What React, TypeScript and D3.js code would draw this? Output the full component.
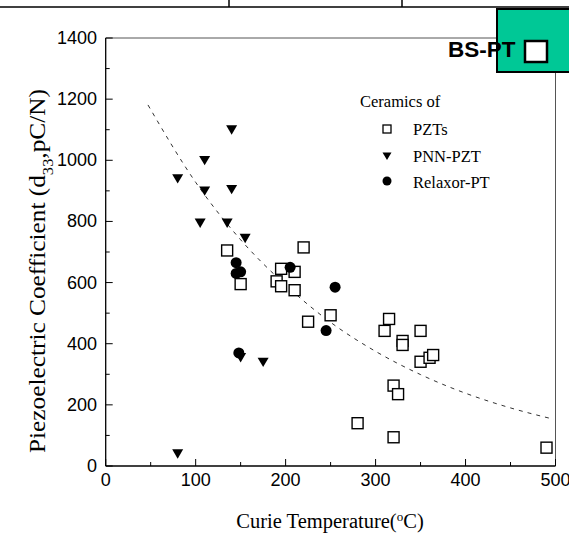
import React from "react";
import * as d3 from "d3";

const pztX = [135, 150, 190, 195, 195, 210, 210, 220, 225, 250, 280, 310, 315, 320, 320, 325, 330, 330, 350, 350, 360, 364, 490];
const pztY = [705, 595, 604, 588, 645, 635, 575, 715, 472, 493, 140, 442, 481, 263, 94, 235, 409, 396, 442, 341, 354, 363, 60];
const pnnX = [140, 110, 80, 110, 140, 105, 135, 155, 150, 175, 80];
const pnnY = [1100, 1000, 940, 900, 905, 795, 795, 745, 355, 340, 40];
const relX = [145, 145, 150, 205, 255, 245, 148];
const relY = [665, 630, 635, 650, 585, 443, 370];
const fitX = [47, 100, 150, 200, 250, 300, 350, 400, 450, 498];
const fitY = [1181, 928, 740, 592, 470, 375, 299, 238, 190, 153];
const xTicks = [0, 100, 200, 300, 400, 500];
const yTicks = [0, 200, 400, 600, 800, 1000, 1200, 1400];
const legendLabels = ["PZTs", "PNN-PZT", "Relaxor-PT"];

export default function App() {
  const W = 569, H = 533;
  const x = d3.scaleLinear().domain([0, 500]).range([105.7, 555.5]);
  const y = d3.scaleLinear().domain([0, 1400]).range([466, 38]);
  const line = d3.line<number>().x((_, i) => x(fitX[i])).y((v) => y(v)).curve(d3.curveMonotoneX);
  const minorX = d3.range(50, 500, 100);
  const minorY = d3.range(100, 1400, 200);
  const tri = (cx: number, cy: number, s: number) =>
    `M${cx - s},${cy - s * 0.8}L${cx + s},${cy - s * 0.8}L${cx},${cy + s * 0.9}Z`;
  const serif = "'Liberation Serif', 'Times New Roman', serif";
  const sans = "'Liberation Sans', Arial, sans-serif";
  return (
    <svg width={W} height={H} style={{ position: "absolute", left: 0, top: 0, background: "#fff" }}>
      {/* top table border fragment */}
      <line x1={0} x2={W} y1={7} y2={7} stroke="#000" strokeWidth={1.5} />
      <line x1={229} x2={229} y1={0} y2={7} stroke="#000" strokeWidth={1.5} />
      <line x1={402} x2={402} y1={0} y2={7} stroke="#000" strokeWidth={1.5} />
      {/* frame */}
      <line x1={x(0)} x2={x(500)} y1={y(1400)} y2={y(1400)} stroke="#555" strokeWidth={1} />
      <line x1={x(500)} x2={x(500)} y1={y(1400)} y2={y(0)} stroke="#555" strokeWidth={1} />
      <line x1={x(0)} x2={x(0)} y1={y(1400)} y2={y(0)} stroke="#000" strokeWidth={1.3} />
      <line x1={x(0)} x2={x(500)} y1={y(0)} y2={y(0)} stroke="#000" strokeWidth={1.3} />
      {/* ticks */}
      {xTicks.map((t) => (
        <g key={"xt" + t}>
          <line x1={x(t)} x2={x(t)} y1={y(0)} y2={y(0) - 7} stroke="#000" />
          <text x={x(t)} y={486} textAnchor="middle" fontFamily={sans} fontSize={18}>{t}</text>
        </g>
      ))}
      {minorX.map((t) => (
        <line key={"xm" + t} x1={x(t)} x2={x(t)} y1={y(0)} y2={y(0) - 4} stroke="#000" />
      ))}
      {yTicks.map((t) => (
        <g key={"yt" + t}>
          <line x1={x(0)} x2={x(0) + 7} y1={y(t)} y2={y(t)} stroke="#000" />
          <text x={97} y={y(t) + 6} textAnchor="end" fontFamily={sans} fontSize={18}>{t}</text>
        </g>
      ))}
      {minorY.map((t) => (
        <line key={"ym" + t} x1={x(0)} x2={x(0) + 4} y1={y(t)} y2={y(t)} stroke="#000" />
      ))}
      {/* fit curve */}
      <path d={line(fitY) || ""} fill="none" stroke="#333" strokeWidth={1} strokeDasharray="4,5" />
      {/* data */}
      {pztX.map((v, i) => (
        <rect key={"p" + i} x={x(v) - 5.5} y={y(pztY[i]) - 5.5} width={11} height={11} fill="#fff" stroke="#000" strokeWidth={1.4} />
      ))}
      {pnnX.map((v, i) => (
        <path key={"n" + i} d={tri(x(v), y(pnnY[i]), 5.5)} fill="#000" />
      ))}
      {relX.map((v, i) => (
        <circle key={"r" + i} cx={x(v)} cy={y(relY[i])} r={5.5} fill="#000" />
      ))}
      {/* legend */}
      <text x={360} y={107} fontFamily={serif} fontSize={16.5}>Ceramics of</text>
      <rect x={383} y={125} width={8} height={8} fill="#fff" stroke="#000" strokeWidth={1.3} />
      <path d={tri(387, 156, 4.5)} fill="#000" />
      <circle cx={387} cy={181} r={4.5} fill="#000" />
      {legendLabels.map((l, i) => (
        <text key={l} x={413} y={135 + i * 26.5} fontFamily={serif} fontSize={16.5}>{l}</text>
      ))}
      {/* axis titles */}
      <text x={330} y={528} textAnchor="middle" fontFamily={serif} fontSize={20.5}>
        Curie Temperature(<tspan baselineShift="super" fontSize={13}>o</tspan>C)
      </text>
      <text transform="translate(45,271) rotate(-90)" textAnchor="middle" fontFamily={serif} fontSize={23}
        textLength={364} lengthAdjust="spacingAndGlyphs">
        Piezoelectric Coefficient (d<tspan baselineShift="sub" fontSize={15}>33</tspan>,pC/N)
      </text>
      {/* BS-PT badge */}
      <rect x={497} y={9} width={75} height={63} fill="#00C896" stroke="#000" strokeWidth={2} />
      <text x={448} y={57} fontFamily={sans} fontWeight="bold" fontSize={22.5}>BS-PT</text>
      <rect x={525} y={41} width={22} height={21} fill="#fff" stroke="#000" strokeWidth={2.5} />
    </svg>
  );
}
